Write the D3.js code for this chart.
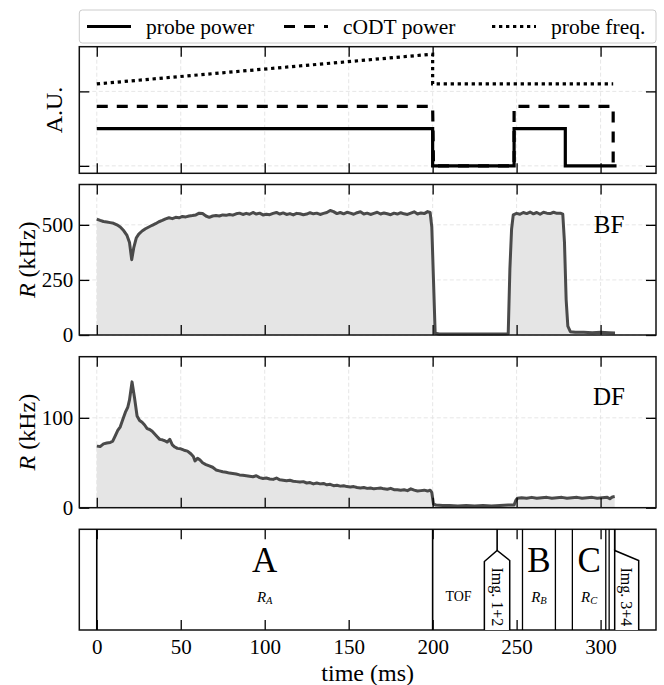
<!DOCTYPE html>
<html>
<head>
<meta charset="utf-8">
<script src="https://cdn.jsdelivr.net/npm/d3@7"></script>
<style>
body{margin:0;background:#fff;}
svg text{font-family:"Liberation Serif","Times New Roman",serif;fill:#000;}
</style>
</head>
<body>
<svg id="chart"></svg>
<script>
// values, time in ms
let ticksX = [0,50,100,150,200,250,300];

let probePower = [[0,0.5],[200,0.5],[200,0],[248.5,0],[248.5,0.5],[279,0.5],[279,0],[309.5,0]];
let codtPower  = [[0,0.8],[200,0.8],[200.5,0],[248.5,0],[248.5,0.8],[307.5,0.8],[307.5,0]];
let probeFreq  = [[0,1.1],[200,1.5],[200,1.1],[307.5,1.1]];
let auTicks = [0,1];

let bfRate = [[0,526],[2,520],[4,515],[6,513],[8,510],[10,507],[12,500],[14,490],[16,474],[18,452],[19.5,420],[20.8,342],
  [22,395],[23.5,440],[25,458],[27,472],[29,482],[31,490],[33,498],[35,505],[37,514],[39,520],[41,527],[43,532],[45,528],
  [47,534],[49,532],[51,538],[53,536],[55,540],[57,542],[59,545],[61,553],[63,551],[65,540],[67,534],[69,540],[71,542],
  [73,540],[75,545],[77,543],[79,547],[81,544],[83,550],[85,553],[87,547],[89,552],[91,548],[93,556],[95,549],[97,553],
  [99,545],[101,548],[103,546],[105,552],[107,556],[109,549],[111,554],[113,547],[115,551],[117,545],[119,552],[121,550],
  [123,546],[125,549],[127,555],[129,550],[131,553],[133,547],[135,552],[137,556],[139,565],[141,560],[143,551],[145,556],
  [147,550],[149,557],[151,553],[153,548],[155,555],[157,559],[159,549],[161,553],[163,547],[165,552],[167,557],[169,549],
  [171,554],[173,550],[175,546],[177,553],[179,549],[181,555],[183,550],[185,547],[187,553],[189,559],[191,549],[193,554],
  [195,551],[197,560],[198.5,556],[199.5,490],[200.5,250],[201.5,8],[204,5],[210,5],[220,4],[230,5],[240,5],[245,6],
  [246,300],[247,480],[248,545],[250,552],[252,548],[254,556],[256,551],[258,558],[260,550],[262,556],[264,548],[266,557],
  [268,553],[270,551],[272,557],[274,552],[276,553],[277.5,548],[278.5,420],[279.5,160],[280.5,40],[282,15],[285,12],
  [290,13],[295,10],[300,12],[305,10],[308.6,9]];
let bfTicks = [0,250,500];

let dfRate = [[0,68.5],[2,68],[4,71],[6,72],[8,72.5],[9.5,74],[11,80],[12.5,86],[14,90],[15.5,98],[17,106],[18.5,112],
  [19.5,120],[21,140],[22.5,122],[24,102],[25.5,97],[27,95],[28.5,92],[30,88],[31.5,87],[33,85],[34.5,82],[36,79],
  [37.5,76],[39,75.5],[40.5,74.5],[42,73],[43.5,76],[45,70],[46.5,67.5],[48,66],[50,65.5],[52,64],[54,63],[56,60],
  [57.5,57],[58.5,52],[60,55],[61.5,53],[63,50],[65,48],[67,46.5],[69,45],[71,42],[73,41],[75,40],[77,39.5],[79,38.5],
  [81,38],[83,37.5],[85,36.5],[87,36],[89,35.5],[91,35],[93,34.5],[95,35.5],[97,33.5],[99,32.5],[101,33],[103,32],
  [105,31.5],[107,33],[109,31],[111,30.5],[113,30],[115,30.5],[117,29.5],[119,29],[121,28.5],[123,29],[125,27.5],
  [127,28],[129,26.5],[131,27.5],[133,26.5],[135,27],[137,25.5],[139,26],[141,24.5],[143,25],[145,24],[147,24.5],
  [149,23.5],[151,23],[153,23.5],[155,22.5],[157,22],[159,22.5],[161,21.5],[163,22],[165,21],[167,21.5],[169,22],
  [171,21],[173,20.5],[175,21.5],[177,20],[179,20],[181,19.5],[183,20],[185,19],[187,21],[189,19.5],[191,18.5],[193,19],
  [195,19.5],[197,18.5],[198.5,19.5],[199.5,17],[200.5,4],[202,3],[206,2.5],[210,2.5],[215,2],[220,2.5],[225,2],
  [230,2.5],[235,2],[240,2.5],[245,3],[248.5,3],[249.5,8],[250.5,10.5],[253,11],[256,10.5],[259,11.5],[262,10.5],
  [265,11],[268,11.5],[271,10.5],[274,11],[277,11.5],[280,10.5],[283,11],[286,11.5],[289,10.5],[292,11],[295,11.5],
  [298,10.5],[301,11],[304,11.5],[305.5,10],[307,12],[308.4,12.5]];
let dfTicks = [0,100];

// bottom panel: sequence stages
let phaseLines = [0,200,253.5,273.1,283.2,303.1,305.1,308.4];
let phaseNames = ["A","B","C"];
let phaseCenters = [100,263.3,293.2];
let tofCenter = 215.4;
let imgLabels = ["Img. 1+2","Img. 3+4"];
let imgLeft = [230.8,308.4];
let imgTip = [238.4,308.4];
let imgRight = [245.9,322.7];

let legendNames = ["probe power","cODT power","probe freq."];
let legendDash = [null,"11,9","3.3,3.7"];

let width = 664;
let height = 685;

let svg = d3.select("#chart").attr("width", width).attr("height", height);

let x = d3.scaleLinear().domain([-10.4,333]).range([79.3,656]);

let panels = [
  {top:46.7, bottom:173.3, domain:[-0.1,1.6], ticks:auTicks, labels:false},
  {top:184.5, bottom:335, domain:[0,683], ticks:bfTicks, labels:true},
  {top:356.7, bottom:507.7, domain:[0,168], ticks:dfTicks, labels:true},
  {top:529.3, bottom:630, domain:[0,1], ticks:[], labels:false}
];
panels.forEach(p => {
  p.y = d3.scaleLinear().domain(p.domain).range([p.bottom, p.top]);
});

let grid = (p) => {
  let g = svg.append("g");
  g.selectAll(".gx").data(ticksX).enter().append("line")
    .attr("x1", d => x(d)).attr("x2", d => x(d))
    .attr("y1", p.top).attr("y2", p.bottom)
    .attr("stroke", "#e3e3e3").attr("stroke-width", 0.9).attr("stroke-dasharray", "4,2.5");
  g.selectAll(".gy").data(p.ticks).enter().append("line")
    .attr("x1", x.range()[0]).attr("x2", x.range()[1])
    .attr("y1", d => p.y(d)).attr("y2", d => p.y(d))
    .attr("stroke", "#e3e3e3").attr("stroke-width", 0.9).attr("stroke-dasharray", "4,2.5");
};

let frame = (p, xLabels) => {
  let fix = (g) => {
    g.select(".domain").remove();
    g.selectAll(".tick line").attr("stroke-width", 1.3);
    g.attr("font-family", null).attr("font-size", 21);
  };
  svg.append("g").attr("transform", "translate(0," + p.bottom + ")")
    .call(d3.axisBottom(x).tickValues(ticksX).tickSize(-10).tickPadding(9)
      .tickFormat(xLabels ? d3.format("d") : () => ""))
    .call(fix);
  svg.append("g").attr("transform", "translate(0," + p.top + ")")
    .call(d3.axisTop(x).tickValues(ticksX).tickSize(-10).tickFormat(() => ""))
    .call(fix);
  if (p.ticks.length) {
    svg.append("g").attr("transform", "translate(" + x.range()[0] + ",0)")
      .call(d3.axisLeft(p.y).tickValues(p.ticks).tickSize(-10).tickPadding(6)
        .tickFormat(p.labels ? d3.format("d") : () => ""))
      .call(fix);
    svg.append("g").attr("transform", "translate(" + x.range()[1] + ",0)")
      .call(d3.axisRight(p.y).tickValues(p.ticks).tickSize(-10).tickFormat(() => ""))
      .call(fix);
  }
  svg.append("rect")
    .attr("x", x.range()[0]).attr("y", p.top)
    .attr("width", x.range()[1] - x.range()[0]).attr("height", p.bottom - p.top)
    .attr("fill", "none").attr("stroke", "#111").attr("stroke-width", 1.5);
};

let drawControl = () => {
  let p = panels[0];
  grid(p);
  let line = d3.line().x(d => x(d[0])).y(d => p.y(d[1]));
  [probePower, codtPower, probeFreq].forEach((s, i) => {
    svg.append("path").datum(s).attr("d", line)
      .attr("fill", "none").attr("stroke", "#000").attr("stroke-width", 3.2)
      .attr("stroke-dasharray", legendDash[i]);
  });
  frame(p, false);
  svg.append("text").attr("transform", "translate(54," + (p.top + p.bottom) / 2 + ") rotate(-90)")
    .attr("text-anchor", "middle").attr("dominant-baseline", "central")
    .attr("font-size", 24).text("A.U.");
};

let drawRate = (p, data, tag) => {
  grid(p);
  let area = d3.area().x(d => x(d[0])).y0(p.y(0)).y1(d => p.y(d[1]));
  let line = d3.line().x(d => x(d[0])).y(d => p.y(d[1]));
  svg.append("path").datum(data).attr("d", area).attr("fill", "#e5e5e5");
  svg.append("path").datum(data).attr("d", line)
    .attr("fill", "none").attr("stroke", "#4a4a4a").attr("stroke-width", 3)
    .attr("stroke-linejoin", "round");
  frame(p, false);
  svg.append("text").attr("x", 609).attr("y", p.top + 40)
    .attr("text-anchor", "middle").attr("dominant-baseline", "central")
    .attr("font-size", 25).text(tag);
  let lab = svg.append("text").attr("transform", "translate(27," + (p.top + p.bottom) / 2 + ") rotate(-90)")
    .attr("text-anchor", "middle").attr("dominant-baseline", "central").attr("font-size", 24);
  lab.append("tspan").attr("font-style", "italic").text("R");
  lab.append("tspan").text(" (kHz)");
};

let drawStages = () => {
  let p = panels[3];
  let y = p.y;
  frame(p, true);
  svg.selectAll(".phase").data(phaseLines).enter().append("line")
    .attr("x1", d => x(d)).attr("x2", d => x(d))
    .attr("y1", y(1)).attr("y2", y(0))
    .attr("stroke", "#000").attr("stroke-width", (d, i) => i < 2 ? 1.6 : 1.3);

  imgLabels.forEach((name, i) => {
    let pts = [[imgLeft[i],0],[imgLeft[i],0.68],[imgTip[i],0.79],[imgRight[i],0.69],[imgRight[i],0]];
    svg.append("line").attr("x1", x(imgTip[i])).attr("x2", x(imgTip[i]))
      .attr("y1", y(1)).attr("y2", y(0.79)).attr("stroke", "#000").attr("stroke-width", 1.6);
    svg.append("path").datum(pts)
      .attr("d", d3.line().x(d => x(d[0])).y(d => y(d[1])))
      .attr("fill", "#fff").attr("stroke", "#000").attr("stroke-width", 1.5);
    let cx = x((imgLeft[i] + imgRight[i]) / 2);
    svg.append("text").attr("transform", "translate(" + cx + "," + y(0.33) + ") rotate(90)")
      .attr("text-anchor", "middle").attr("dominant-baseline", "central")
      .attr("font-size", 16).text(name);
  });

  phaseNames.forEach((name, i) => {
    svg.append("text").attr("x", x(phaseCenters[i])).attr("y", y(0.69))
      .attr("text-anchor", "middle").attr("dominant-baseline", "central")
      .attr("font-size", 35).text(name);
    let t = svg.append("text").attr("x", x(phaseCenters[i])).attr("y", y(0.33))
      .attr("text-anchor", "middle").attr("dominant-baseline", "central").attr("font-size", 15);
    t.append("tspan").attr("font-style", "italic").text("R");
    t.append("tspan").attr("font-style", "italic").attr("font-size", 10.5).attr("dy", 3).text(name);
  });
  svg.append("text").attr("x", x(tofCenter)).attr("y", y(0.33))
    .attr("text-anchor", "middle").attr("dominant-baseline", "central")
    .attr("font-size", 14).text("TOF");

  svg.append("text").attr("x", (x.range()[0] + x.range()[1]) / 2).attr("y", 673)
    .attr("text-anchor", "middle").attr("dominant-baseline", "central")
    .attr("font-size", 24).text("time (ms)");
};

let drawLegend = () => {
  let g = svg.append("g");
  g.append("rect").attr("x", x.range()[0]).attr("y", 10)
    .attr("width", x.range()[1] - x.range()[0]).attr("height", 33).attr("rx", 3)
    .attr("fill", "#fff").attr("stroke", "#cccccc").attr("stroke-width", 1);
  let starts = [87, 284, 492];
  legendNames.forEach((name, i) => {
    g.append("line").attr("x1", starts[i]).attr("x2", starts[i] + 44)
      .attr("y1", 26.5).attr("y2", 26.5)
      .attr("stroke", "#000").attr("stroke-width", 3.2).attr("stroke-dasharray", legendDash[i]);
    g.append("text").attr("x", starts[i] + 59).attr("y", 26.5)
      .attr("dominant-baseline", "central").attr("font-size", 21.5).text(name);
  });
};

drawControl();
drawRate(panels[1], bfRate, "BF");
drawRate(panels[2], dfRate, "DF");
drawStages();
drawLegend();
</script>
</body>
</html>
